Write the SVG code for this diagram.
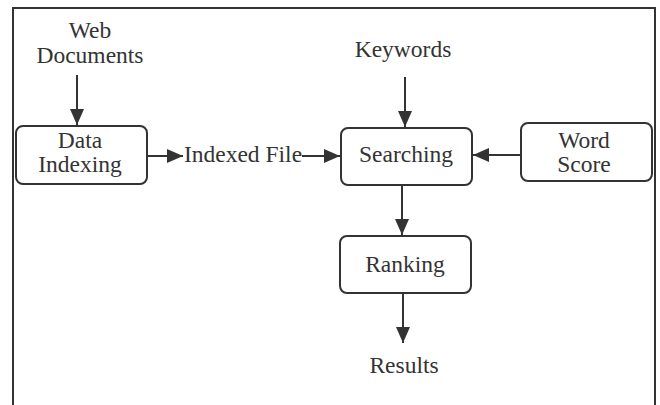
<svg xmlns="http://www.w3.org/2000/svg" width="660" height="405" viewBox="0 0 660 405">
<defs>
<style>
.t{font-family:"Liberation Serif","Times New Roman",serif;font-size:23.5px;fill:#333;text-anchor:middle}
.box{fill:#fff;stroke:#333;stroke-width:2}
.c{stroke:#333;stroke-width:2;fill:none}
</style>
<marker id="ah" markerUnits="userSpaceOnUse" markerWidth="16" markerHeight="14" refX="16" refY="7" orient="auto">
<path d="M0,0 L16,7 L0,14 Z" fill="#333"/>
</marker>
</defs>
<rect width="660" height="405" fill="#fff"/>
<path d="M13,405 V8 H655 V405" class="c"/>
<g id="web-documents"><text class="t" x="90" y="38">Web</text><text class="t" x="90" y="63">Documents</text></g>
<g id="keywords"><text class="t" x="403" y="57">Keywords</text></g>
<g id="data-indexing"><rect class="box" x="16" y="126" width="131" height="58" rx="7"/><text class="t" x="80" y="148">Data</text><text class="t" x="80" y="172">Indexing</text></g>
<g id="indexed-file"><text class="t" x="243" y="162">Indexed File</text></g>
<g id="searching"><rect class="box" x="341" y="128" width="131" height="57" rx="7"/><text class="t" x="406" y="162">Searching</text></g>
<g id="word-score"><rect class="box" x="521" y="123" width="131" height="58" rx="7"/><text class="t" x="584" y="148">Word</text><text class="t" x="584" y="172">Score</text></g>
<g id="ranking"><rect class="box" x="340" y="236" width="131" height="57" rx="7"/><text class="t" x="405" y="272">Ranking</text></g>
<g id="results"><text class="t" x="404" y="373">Results</text></g>
<g id="connectors">
<line class="c" x1="77" y1="75" x2="77" y2="125" marker-end="url(#ah)"/>
<line class="c" x1="147" y1="156" x2="183" y2="156" marker-end="url(#ah)"/>
<line class="c" x1="302" y1="156" x2="340" y2="156" marker-end="url(#ah)"/>
<line class="c" x1="405" y1="77" x2="405" y2="127" marker-end="url(#ah)"/>
<line class="c" x1="521" y1="155" x2="473" y2="155" marker-end="url(#ah)"/>
<line class="c" x1="402" y1="185" x2="402" y2="235" marker-end="url(#ah)"/>
<line class="c" x1="403" y1="293" x2="403" y2="343" marker-end="url(#ah)"/>
</g>
</svg>
